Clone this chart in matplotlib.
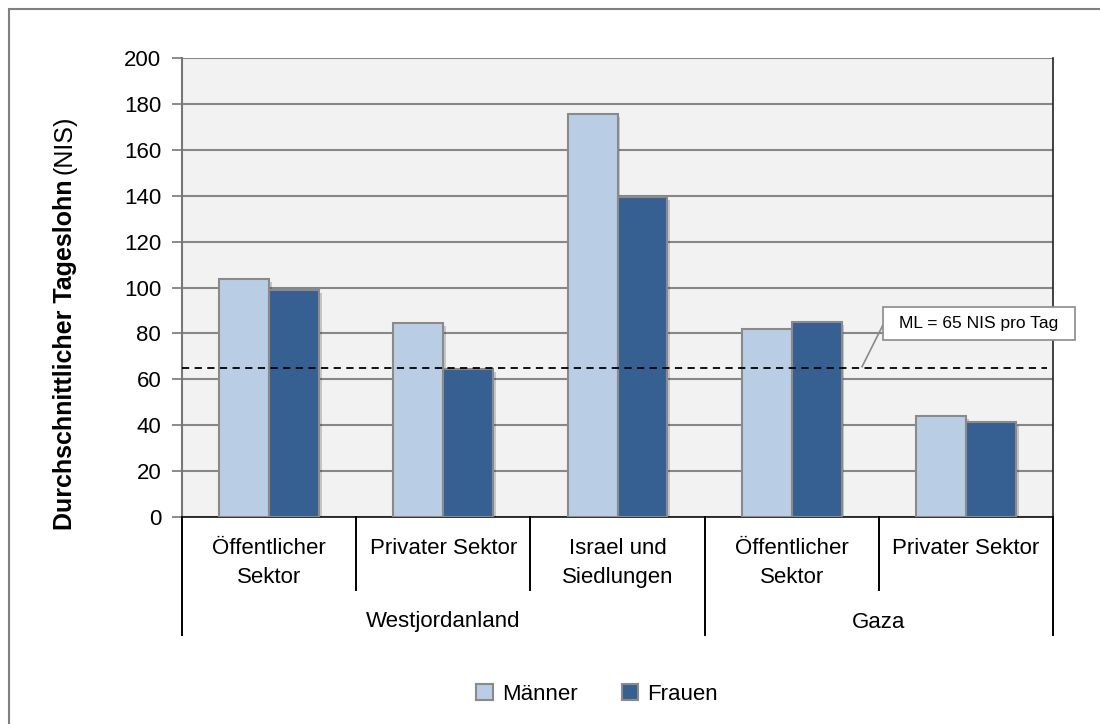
import matplotlib
matplotlib.use("Agg")
import matplotlib.pyplot as plt
import matplotlib.patheffects as pe
from matplotlib.patches import Rectangle, Patch
from matplotlib.lines import Line2D
from matplotlib.transforms import blended_transform_factory
import numpy as np

# Daily wages by sector (NIS)
categories = ["Öffentlicher\nSektor", "Privater Sektor", "Israel und\nSiedlungen",
              "Öffentlicher\nSektor", "Privater Sektor"]
regions = ["Westjordanland", "Gaza"]
region_sizes = [3, 2]
maenner = [103.5, 84.5, 175.5, 82.0, 44.0]
frauen = [99.0, 64.5, 139.5, 85.0, 41.5]
min_wage = 65
min_wage_label = "ML = 65 NIS pro Tag"

W, H = 1100, 724
plt.rcParams['font.family'] = ['Liberation Sans', 'DejaVu Sans']

fig = plt.figure(figsize=(W / 100, H / 100), dpi=100)
ax = fig.add_axes([182 / W, 1 - 517 / H, (1053 - 182) / W, (517 - 58) / H])

def fy(py):
    return 1 - py / H

light = "#B9CDE5"
dark = "#366092"
edge = "#8A8A8A"

ax.set_facecolor("#F2F2F2")
x = np.arange(len(categories))
bw = 0.287
shadow = [pe.SimplePatchShadow(offset=(2, -2), shadow_rgbFace="#000000", alpha=0.18), pe.Normal()]
b1 = ax.bar(x - bw / 2, maenner, bw, color=light, edgecolor=edge, linewidth=1.5, zorder=3)
b2 = ax.bar(x + bw / 2, frauen, bw, color=dark, edgecolor=edge, linewidth=1.5, zorder=3)
for b in list(b1) + list(b2):
    b.set_path_effects(shadow)

ax.set_xlim(-0.5, len(categories) - 0.5)
ax.set_ylim(0, 200)
ax.set_yticks(range(0, 201, 20))
ax.yaxis.grid(True, color="#878787", linewidth=1.5, zorder=0)
ax.set_axisbelow(True)
ax.tick_params(axis="y", labelsize=16, length=7, width=1.2, color="#777777", pad=8)
ax.set_xticks([])
ax.spines["top"].set_visible(False)
ax.spines["left"].set_color("#777777")
ax.spines["left"].set_linewidth(1.5)
ax.spines["right"].set_color("#222222")
ax.spines["right"].set_linewidth(1.2)
ax.spines["bottom"].set_color("#222222")
ax.spines["bottom"].set_linewidth(1.3)

# minimum wage reference line with callout box
ax.axhline(min_wage, xmin=0, xmax=0.993, color="black", linestyle=(0, (4, 3)), linewidth=1.3, zorder=4)
ax.add_patch(Rectangle((3.524, 77.1), 1.102, 14.4, fc="white", ec="#8A8A8A", lw=1.2,
                       zorder=6, clip_on=False))
ax.add_line(Line2D([3.404, 3.524], [min_wage + 0.5, 83.7], color="#8A8A8A", lw=1.2, zorder=5))
ax.text(4.075, 84.3, min_wage_label, fontsize=12.5, ha="center", va="center", zorder=7)

# two-level category axis
tr = blended_transform_factory(ax.transData, fig.transFigure)
bounds = np.arange(len(categories) + 1) - 0.5
region_edges = np.concatenate([[0], np.cumsum(region_sizes)]) - 0.5
for bx in bounds:
    low = 635 if bx in region_edges else 590
    fig.add_artist(Line2D([bx, bx], [fy(517), fy(low)], transform=tr, color="black", lw=1.4))
for i, c in enumerate(categories):
    fig.text(i, fy(538), c, transform=tr, ha="center", va="top", fontsize=16, linespacing=1.5)
starts = region_edges[:-1]
for r, s, n in zip(regions, starts, region_sizes):
    fig.text(s + n / 2, fy(622), r, transform=tr, ha="center", va="center", fontsize=16)

# y axis title: bold part plus unit
t1 = fig.text(65 / W, fy(530), "Durchschnittlicher Tageslohn", rotation=90, rotation_mode="anchor",
              ha="left", va="center", fontsize=18, fontweight="bold")
fig.canvas.draw()
ext = t1.get_window_extent()
t2 = fig.text(65 / W, fy(530) + (ext.height + 5) / H, "(NIS)", rotation=90, rotation_mode="anchor",
              ha="left", va="center", fontsize=18)

fig.legend([Patch(fc=light, ec=edge, lw=1.5), Patch(fc=dark, ec=edge, lw=1.5)],
           ["Männer", "Frauen"], loc="center", bbox_to_anchor=(597 / W, fy(694)),
           ncol=2, frameon=False, fontsize=16, handlelength=0.75, handleheight=0.75,
           handletextpad=0.4, columnspacing=2.0)

# outer chart frame
fig.add_artist(Rectangle((9 / W, -0.2), 1.2, fy(9) + 0.2, transform=fig.transFigure,
                         fill=False, ec="#808080", lw=1.5))

fig.savefig("out.png", dpi=100)
